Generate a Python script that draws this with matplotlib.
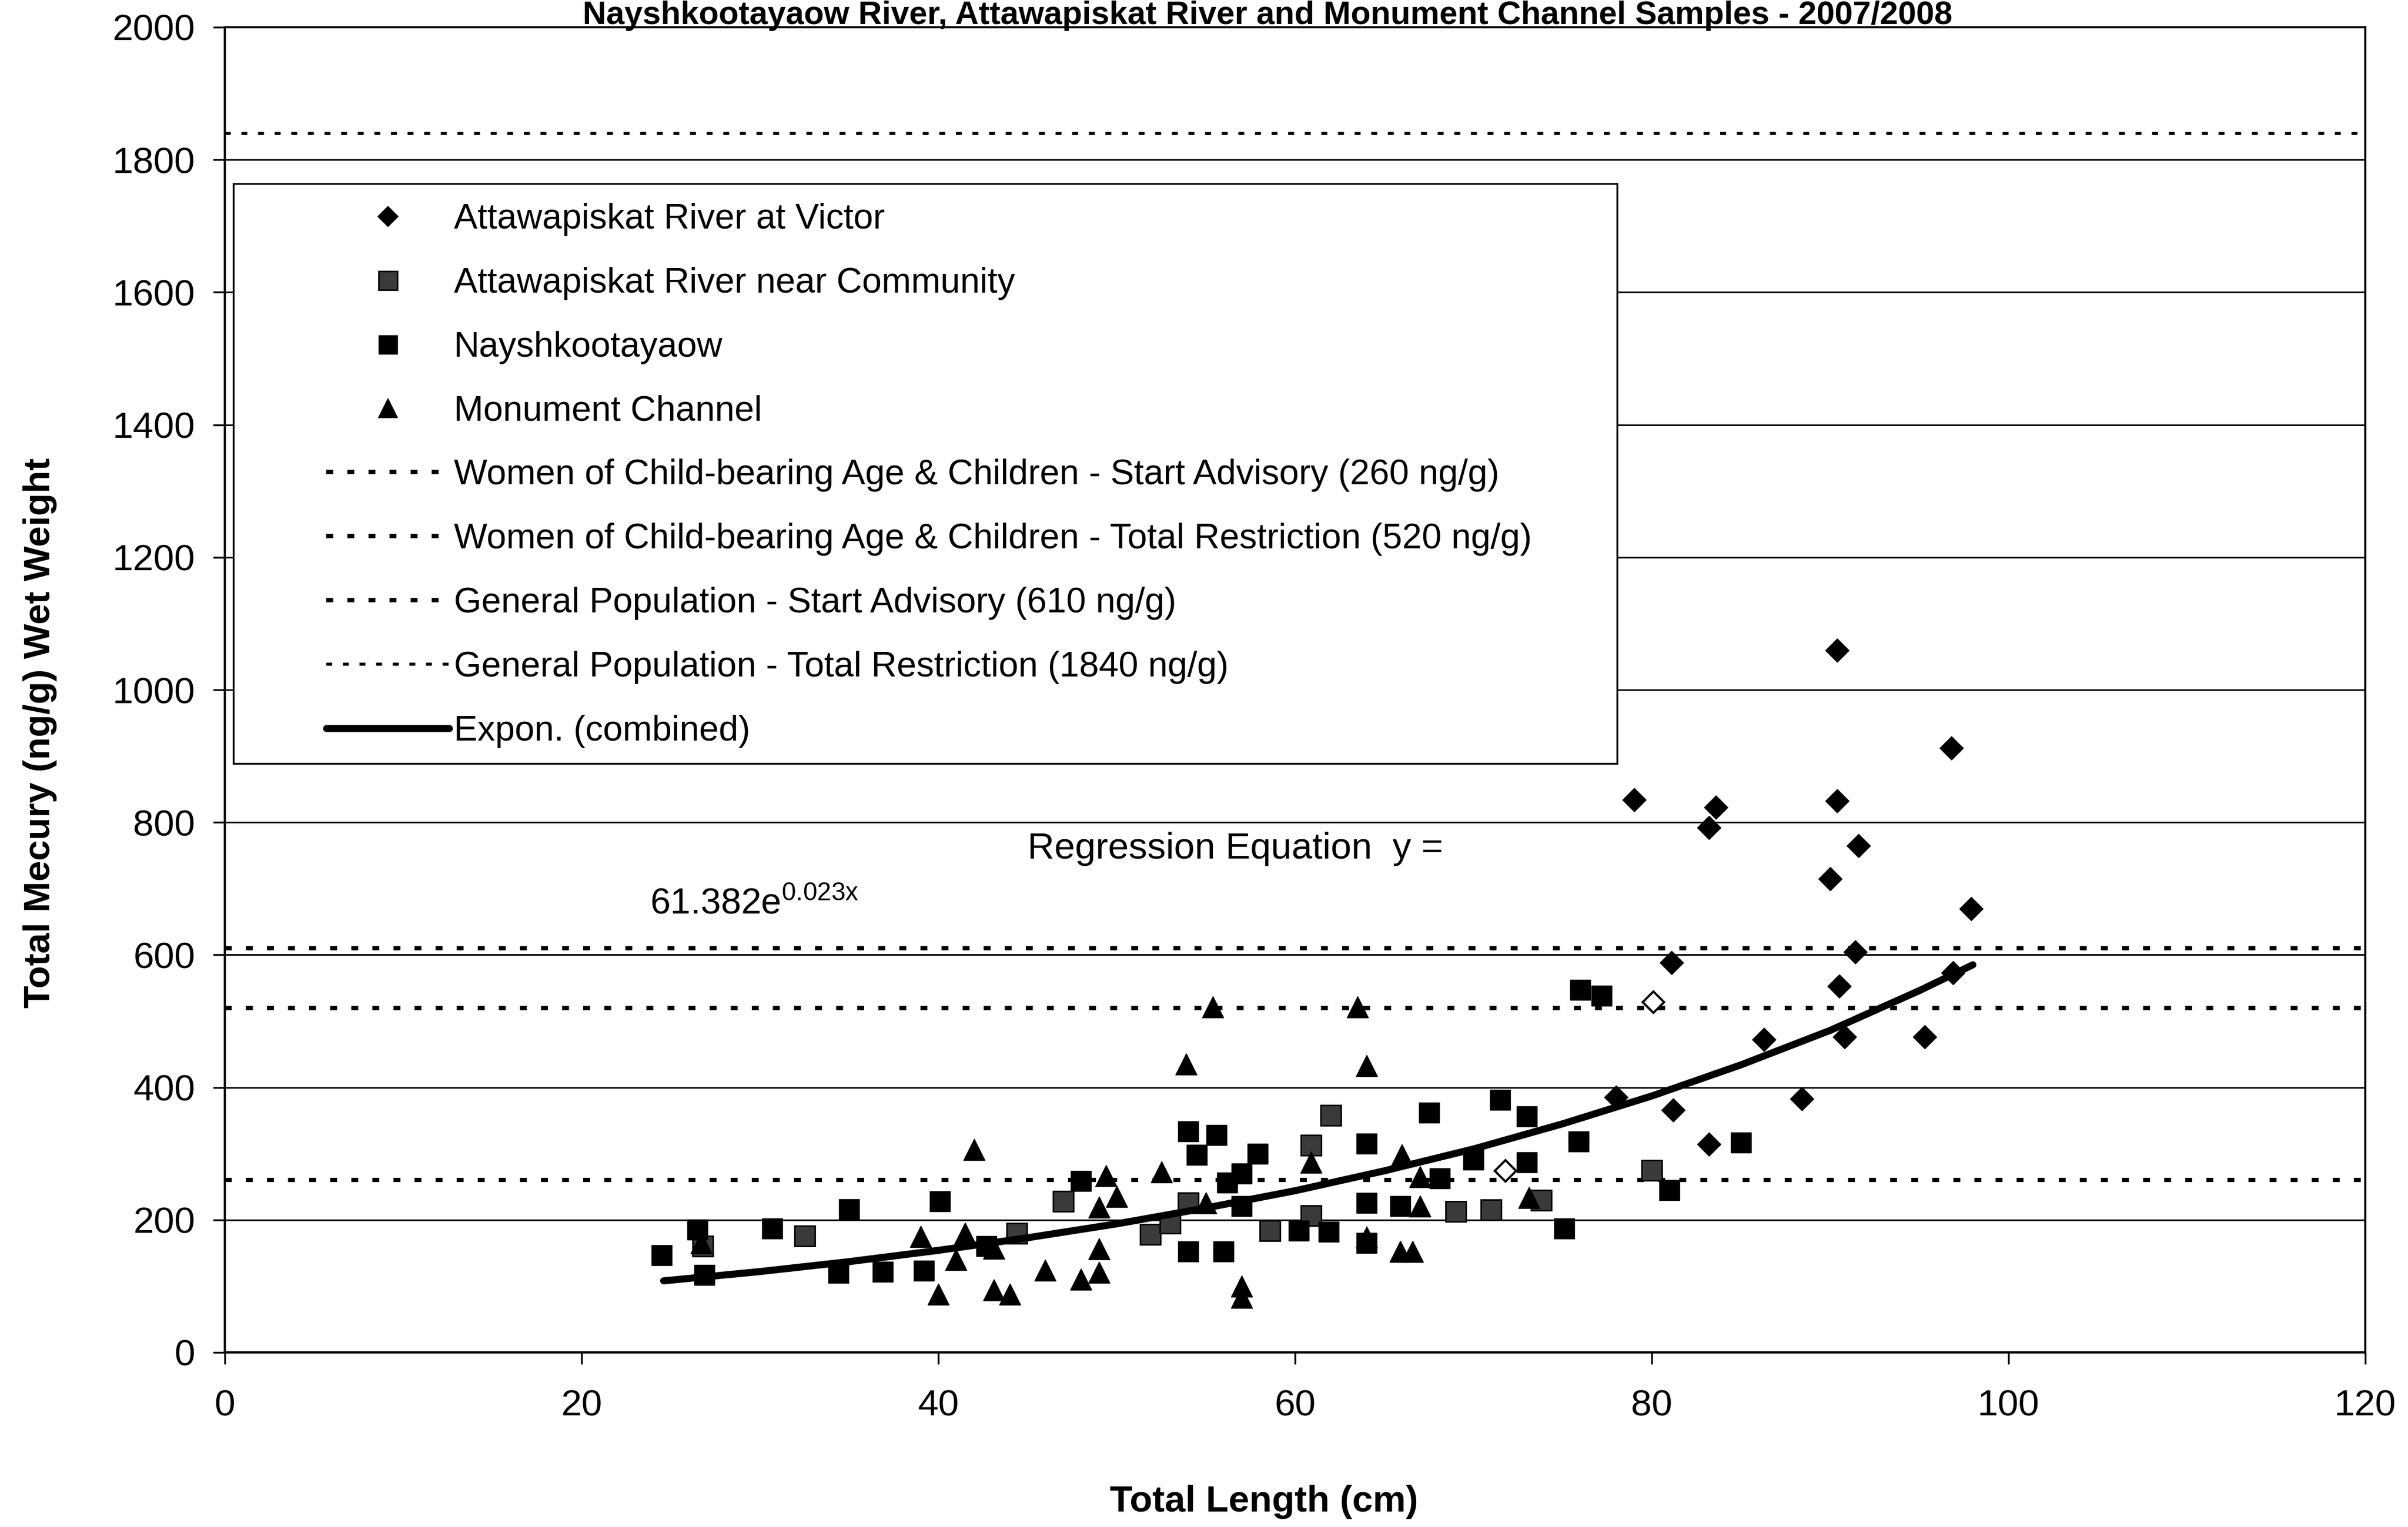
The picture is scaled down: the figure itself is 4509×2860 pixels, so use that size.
import matplotlib
matplotlib.use('Agg')
import matplotlib.pyplot as plt
from matplotlib.patches import Rectangle

plt.rcParams['font.family'] = ['Liberation Sans', 'DejaVu Sans']
plt.rcParams['mathtext.fontset'] = 'custom'
plt.rcParams['mathtext.rm'] = 'Liberation Sans'
plt.rcParams['mathtext.it'] = 'Liberation Sans'

# ---------------- data ----------------
title = "Nayshkootayaow River, Attawapiskat River and Monument Channel Samples - 2007/2008"
x_label = "Total Length (cm)"
y_label = "Total Mecury (ng/g) Wet Weight"
x_ticks = [0, 20, 40, 60, 80, 100, 120]
y_ticks = [0, 200, 400, 600, 800, 1000, 1200, 1400, 1600, 1800, 2000]

victor_x = [90.4, 96.8, 79.0, 90.4, 83.6, 83.2, 91.6, 90.0, 97.9, 91.4, 81.1, 90.5,
            96.9, 86.3, 90.8, 95.3, 78.0, 88.4, 81.2, 83.2]
victor_y = [1060, 912, 834, 832, 823, 792, 765, 715, 670, 604, 588, 553,
            573, 472, 476, 476, 385, 383, 366, 314]
victor_open_x = [71.8, 80.1]
victor_open_y = [274, 529]

community_x = [26.8, 32.5, 44.4, 47.0, 51.9, 53.0, 54.0, 58.6, 60.9, 60.9, 62.0,
               69.0, 71.0, 73.8, 80.0]
community_y = [160, 176, 180, 228, 178, 195, 226, 184, 206, 313, 358,
               213, 215, 230, 275]

naysh_x = [24.5, 26.5, 26.9, 30.7, 35.0, 34.4, 36.9, 39.2, 40.1, 42.7, 48.0, 54.0,
           54.5, 55.6, 54.0, 56.0, 56.2, 57.0, 57.0, 57.9, 60.2, 61.9, 64.0, 64.0,
           64.0, 65.9, 68.1, 67.5, 70.0, 71.5, 73.0, 73.0, 75.1, 75.9, 76.0, 77.2,
           81.0, 85.0]
naysh_y = [147, 185, 117, 187, 216, 120, 122, 123, 228, 160, 259, 334,
           298, 328, 152, 152, 256, 270, 221, 300, 184, 182, 315, 226,
           165, 221, 263, 362, 291, 381, 356, 287, 187, 318, 547, 538,
           245, 317]

monument_x = [26.7, 39.0, 40.0, 41.5, 41.0, 42.0, 43.1, 43.1, 44.0, 46.0, 48.0, 49.0,
              49.0, 49.0, 49.4, 50.0, 52.5, 53.9, 55.4, 55.0, 57.0, 57.0, 60.9, 63.5,
              64.0, 64.0, 66.0, 65.9, 66.6, 67.0, 67.0, 73.1]
monument_y = [165, 175, 88, 180, 140, 306, 157, 94, 88, 124, 110, 219,
              156, 121, 267, 235, 272, 435, 521, 226, 100, 83, 287, 521,
              433, 174, 298, 152, 152, 221, 265, 234]

series_labels = ["Attawapiskat River at Victor", "Attawapiskat River near Community",
                 "Nayshkootayaow", "Monument Channel"]

limit_values = [260, 520, 610, 1840]
limit_labels = ["Women of Child-bearing Age & Children - Start Advisory (260 ng/g)",
                "Women of Child-bearing Age & Children - Total Restriction (520 ng/g)",
                "General Population - Start Advisory (610 ng/g)",
                "General Population - Total Restriction (1840 ng/g)"]

trend_label = "Expon. (combined)"
trend_x = [24.6, 30, 35, 40, 45, 50, 55, 60, 65, 70, 75, 80, 85, 90, 95, 98]
trend_y = [108, 122, 137, 154, 173, 194, 218, 244, 274, 307, 345, 387, 434, 486, 546, 585]

eq_line1 = "Regression Equation  y ="
eq_line2 = r"$\mathregular{61.382e^{0.023x}}$"

# ---------------- figure ----------------
W, H = 4509, 2860
DPI = 100
fig = plt.figure(figsize=(W / DPI, H / DPI), dpi=DPI)
fig.patch.set_facecolor('white')
ax = fig.add_axes([421 / W, 1 - 2533 / H, (4429 - 421) / W, (2533 - 51) / H])

ax.set_xlim(0, 120)
ax.set_ylim(0, 2000)
ax.set_xticks(x_ticks)
ax.set_yticks(y_ticks)
ax.tick_params(axis='both', direction='out', length=16, width=2.5, labelsize=50, colors='black')
ax.tick_params(axis='y', pad=24)
ax.tick_params(axis='x', pad=33)
for s in ax.spines.values():
    s.set_color('black')
    s.set_linewidth(3)

ax.yaxis.grid(True, color='black', linewidth=2.2)
ax.set_axisbelow(True)

# threshold lines
limit_handles = []
for v, lab in zip(limit_values, limit_labels):
    lw = 4.0 if v == 1840 else 5.8
    dash = (2.0, 3.6) if v == 1840 else (1.6, 3.3)
    h = ax.axhline(v, color='black', linewidth=lw, dashes=dash,
                   dash_capstyle='butt', zorder=2, label=lab)
    limit_handles.append(h)

# scatter series
h_vic, = ax.plot(victor_x, victor_y, ls='none', marker='D', ms=22, color='black',
                 mec='black', label=series_labels[0], zorder=3)
ax.plot(victor_open_x, victor_open_y, ls='none', marker='D', ms=20, mfc='white',
        mec='black', mew=3, zorder=3)
h_com, = ax.plot(community_x, community_y, ls='none', marker='s', ms=28, mfc='#3a3a3a',
                 mec='black', mew=2, label=series_labels[1], zorder=3)
h_nay, = ax.plot(naysh_x, naysh_y, ls='none', marker='s', ms=28, color='black',
                 label=series_labels[2], zorder=3)
h_mon, = ax.plot(monument_x, monument_y, ls='none', marker='^', ms=29, color='black',
                 label=series_labels[3], zorder=3)

# trend line
h_tr, = ax.plot(trend_x, trend_y, color='black', linewidth=9.5, solid_capstyle='round',
                label=trend_label, zorder=4)

# legend frame + legend
ax.add_patch(Rectangle((437 / W, 1 - 1430 / H), (3028 - 437) / W, (1430 - 344) / H,
                       transform=fig.transFigure, facecolor='white', edgecolor='black',
                       linewidth=2.5, zorder=4.5, clip_on=False))
handles = [h_vic, h_com, h_nay, h_mon] + limit_handles + [h_tr]
leg = ax.legend(handles=handles, loc='upper left', bbox_to_anchor=(611 / W, 1 - 380 / H),
                bbox_transform=fig.transFigure, frameon=False, fontsize=47.6,
                handlelength=3.48, handletextpad=0.13, labelspacing=0.875,
                borderpad=0, borderaxespad=0, markerscale=0.9)
leg.set_zorder(5)

# texts
fig.text(1924 / W, 1 - 1590 / H, eq_line1, fontsize=50, ha='left', va='center')
fig.text(1217 / W, 1 - 1694 / H, eq_line2, fontsize=49, ha='left', va='center')
fig.text(75 / W, 1 - 1373 / H, y_label, rotation=90, fontsize=50, fontweight='bold',
         ha='center', va='center')
fig.text(2367 / W, 1 - 2813 / H, x_label, fontsize=50, fontweight='bold',
         ha='center', va='center')
fig.text(2373 / W, 1 - 45 / H, title, fontsize=44, fontweight='bold',
         ha='center', va='baseline')

fig.savefig('out.png', dpi=DPI, facecolor='white')
